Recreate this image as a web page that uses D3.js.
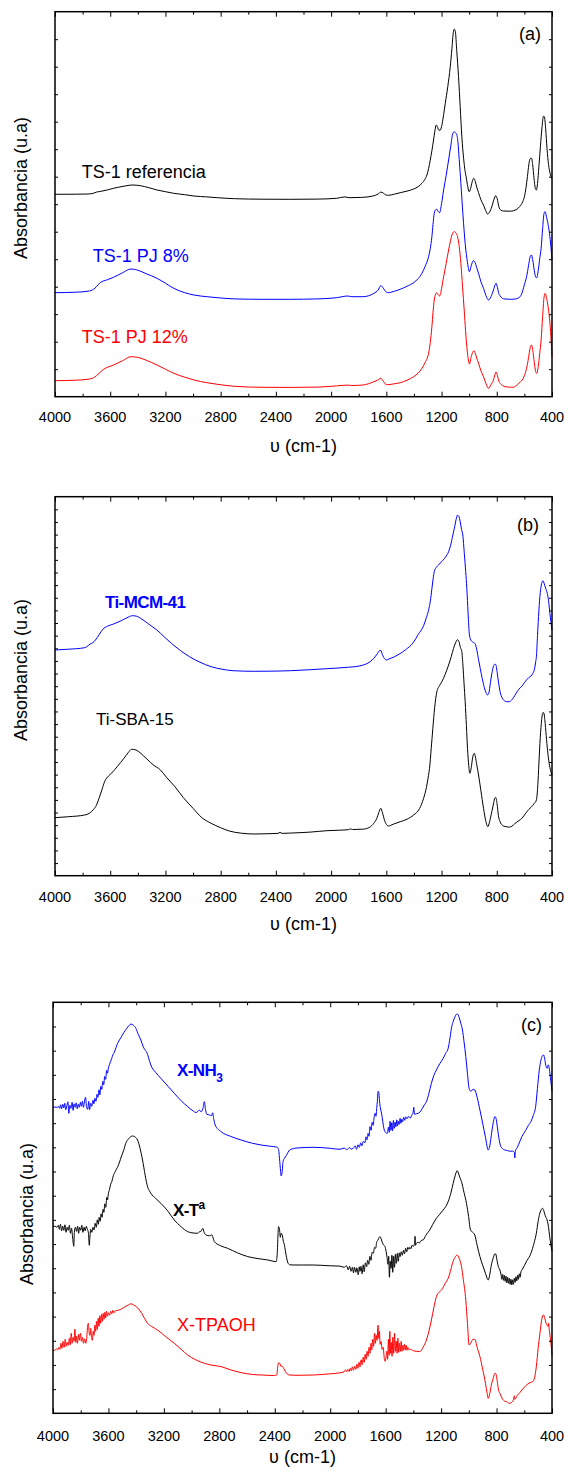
<!DOCTYPE html>
<html>
<head>
<meta charset="utf-8">
<script src="https://cdn.jsdelivr.net/npm/d3@7"></script>
<style>
  html, body { margin: 0; padding: 0; background: #fff; }
  svg { display: block; }
  text { font-family: "Liberation Sans", Arial, Helvetica, sans-serif; }
</style>
</head>
<body>
<svg id="chart" width="568" height="1476"></svg>
<script>
// ---------------------------------------------------------------
// FTIR spectra: wavenumber (cm-1) vs absorbance (arbitrary units,
// each spectrum already carries its vertical offset in its panel)
// ---------------------------------------------------------------

const xTicksMajor = [4000, 3600, 3200, 2800, 2400, 2000, 1600, 1200, 800, 400];
const xTicksMinor = [3800, 3400, 3000, 2600, 2200, 1800, 1400, 1000, 600];

// Panel (a)
const tsReferencia = [[4000,202.4],[3850,202.5],[3760,202.7],[3720,203.5],[3700,204.6],[3673,205.2],[3620,206.8],[3576,208.4],[3500,210.5],[3442,211.7],[3382,211],[3320,209],[3261,206.7],[3200,205],[3140,203.4],[3060,202],[2994,200.7],[2900,199.8],[2824,199],[2700,198],[2500,197.5],[2300,197.4],[2100,197.6],[1960,198.4],[1900,199.8],[1870,199],[1780,199.3],[1700,200.6],[1660,202.6],[1640,204.6],[1622,203.6],[1604,201.8],[1585,201.4],[1540,202.6],[1499,204],[1450,205.6],[1402,207.7],[1370,210],[1342,213.4],[1320,217.5],[1306,221.7],[1294,228],[1282,236.7],[1270,246],[1258,256.7],[1248,266],[1239,271.7],[1230,270],[1220,266.5],[1210,266.5],[1200,270],[1185,282],[1173,293.4],[1155,310],[1137,330],[1125,348],[1115,364],[1108,367.5],[1100,365],[1090,346],[1077,320],[1065,290],[1053,260],[1040,238],[1030,226],[1022,220],[1010,210],[1000,205],[990,208],[978,215],[967,218.4],[955,215],[944,209],[932,204],[915,197],[896,191.5],[880,186],[867,182.7],[852,184.5],[836,190],[820,197.5],[808,201],[797,198],[785,190],[770,186.5],[752,185.7],[700,185.5],[660,187],[635,190],[612,195],[598,201],[589,208.4],[578,220],[568,232],[558,238],[549,238.6],[540,232],[530,218],[520,208],[513,206.7],[505,213],[495,230],[484,250],[472,270],[462,280.5],[455,280],[446,268],[436,248],[425,232],[415,224],[400,218]];

const tsPJ8 = [[4000,104],[3850,104.5],[3760,105.5],[3720,107.5],[3700,110],[3673,114],[3620,117],[3576,119.4],[3510,124],[3450,127.7],[3400,126.5],[3340,123],[3261,118.4],[3200,113.5],[3140,108.4],[3060,104],[2994,101.7],[2900,100],[2824,99],[2700,97.8],[2500,97.4],[2300,97.4],[2100,97.8],[1960,99],[1880,100.7],[1850,100],[1770,100],[1690,103.4],[1660,106.5],[1640,111],[1622,108.5],[1604,105],[1590,104],[1540,105.5],[1499,107.4],[1450,110.5],[1402,114],[1370,118],[1342,123.4],[1320,130],[1294,140],[1282,148],[1270,160],[1262,172],[1253,183.4],[1243,187],[1234,187.4],[1224,185],[1214,184],[1200,193],[1185,206.7],[1167,221],[1149,236.7],[1133,251],[1118,263.4],[1108,265],[1100,264],[1090,262],[1084,258],[1072,237],[1060,213.4],[1045,182],[1029,153.4],[1012,134],[998,125],[985,131],[970,136],[960,135],[945,129],[932,123.4],[915,115],[896,108.4],[878,101],[860,96.7],[842,100],[824,106.7],[812,112],[805,113.5],[795,109],[785,103],[776,101],[760,98.4],[740,97.7],[700,97.4],[670,97.6],[640,99],[622,102],[612,106],[600,112],[584,120],[570,131],[558,140],[549,141.7],[540,137],[528,126],[518,119.5],[510,119],[500,126],[489,138],[479,148],[468,168],[458,183],[450,185],[440,180],[428,172],[418,163],[408,150],[400,136.7]];

const tsPJ12 = [[4000,16],[3850,16.5],[3760,17.5],[3720,19],[3700,21],[3648,27.4],[3576,31.7],[3510,36],[3450,40],[3400,39.3],[3340,36.5],[3261,31.7],[3200,27.5],[3140,23.4],[3060,19.5],[2994,16.7],[2900,14],[2824,12.4],[2700,10.4],[2500,9.4],[2300,9.3],[2100,9.6],[1960,10.8],[1880,11.6],[1850,11.2],[1770,11.7],[1690,15],[1660,16.8],[1640,18.5],[1622,15.5],[1604,12.5],[1590,12],[1540,13],[1499,14],[1450,16.5],[1402,20],[1370,23.5],[1342,28.4],[1320,34],[1294,43.4],[1282,54],[1270,70],[1262,84],[1253,96.7],[1243,102.5],[1234,104],[1224,102],[1214,100.7],[1200,108],[1185,120],[1167,133],[1149,146.7],[1135,156],[1125,161.7],[1115,164.5],[1106,165],[1095,163.5],[1084,160],[1072,150],[1060,133.4],[1048,110],[1036,86.7],[1026,66],[1017,50],[1008,39],[998,32.7],[985,40],[972,45],[964,46],[955,43],[945,38.5],[932,33.4],[915,26],[896,20],[878,13],[860,8.4],[842,12],[824,16.7],[813,22],[805,24.8],[795,21],[785,15.5],[776,13.4],[760,11.3],[740,10],[700,9.5],[681,9.4],[660,11],[640,13.5],[628,15],[615,16.7],[600,21],[584,28.4],[570,39],[558,49],[549,51.7],[540,47],[528,34],[518,25],[510,23.4],[500,30],[489,43],[479,56.7],[468,80],[458,99],[450,103.4],[440,99],[428,90],[418,78.4],[408,60],[400,40]];

// Panel (b)
const tiMCM41 = [[4000,225.7],[3900,226.5],[3785,228],[3760,230],[3746,231.7],[3725,233],[3707,235.7],[3680,241],[3654,246.4],[3620,249.5],[3576,251.7],[3520,255],[3470,258.5],[3440,260],[3410,259.5],[3380,257.4],[3330,252.5],[3290,248.5],[3262,245.7],[3210,239],[3157,232.4],[3090,225],[3026,219],[2950,213.5],[2869,209],[2790,206.5],[2712,205],[2555,204.4],[2400,204.6],[2293,205],[2150,206],[2031,207],[1900,208.2],[1796,209.7],[1750,211.5],[1717,214],[1690,217.5],[1665,222],[1650,225],[1640,225.3],[1628,221],[1610,216.5],[1597,215.7],[1580,216.8],[1540,219],[1508,221.5],[1460,226],[1403,233.5],[1370,241],[1330,250],[1310,258],[1295,265],[1282,274],[1270,287],[1260,298],[1253,304],[1240,308],[1222,310.7],[1200,314],[1180,317],[1160,321],[1149,324],[1135,330],[1118,340.7],[1105,349],[1095,356],[1085,360.5],[1075,359.5],[1065,354],[1055,346],[1046,340.7],[1035,322],[1025,304],[1017,287.4],[1008,263],[998,240.7],[985,235],[972,233.5],[957,232],[945,226],[932,216],[920,207.4],[905,197],[890,188],[878,183],[867,180.7],[857,183],[846,193],[836,202],[825,209],[815,211.5],[807,211],[797,203],[786,192],[776,184],[760,177.5],[745,175],[728,174],[709,174],[690,176],[670,180],[650,184.5],[630,188],[618,189.5],[600,193],[580,196.5],[560,199],[552,199.7],[540,202],[528,206],[518,214],[513,219],[505,240],[495,265],[485,283],[475,292],[466,295],[461,294],[452,290],[445,287],[434,282.4],[425,275],[415,262],[408,254],[400,245.7]];

const tiSBA15 = [[4000,58],[3900,59],[3785,60.7],[3750,62.5],[3720,66.4],[3700,70.5],[3681,77.4],[3660,86],[3641,94],[3610,100],[3580,104],[3550,109],[3500,117.5],[3470,123],[3445,126.4],[3420,126],[3393,124],[3360,120],[3327,115.7],[3290,111],[3236,105.7],[3190,98],[3131,89],[3070,78],[3000,67.4],[2940,58.5],[2869,52.4],[2800,48],[2738,44.7],[2650,42.5],[2555,41.7],[2450,42],[2385,42.3],[2370,43.3],[2355,42.3],[2300,42.6],[2150,43.6],[2031,45],[1940,45.5],[1875,46],[1861,46.8],[1845,46.2],[1770,46.5],[1720,48.5],[1691,52.4],[1670,57],[1655,63],[1640,67.4],[1628,63],[1612,55],[1595,50.5],[1586,49.7],[1550,51.5],[1499,54],[1450,56.5],[1402,60.7],[1360,67],[1330,77.4],[1310,88],[1295,100],[1287,107.4],[1275,127],[1263,147.4],[1250,168],[1234,184],[1215,190],[1198,194],[1175,201],[1149,210.7],[1130,219],[1113,227.4],[1098,233],[1085,236],[1075,234.5],[1063,228],[1053,224],[1045,210],[1037,192],[1029,174],[1020,150],[1012,127.4],[1003,110],[995,102.4],[985,108],[975,118],[963,122.4],[955,119],[945,111],[932,100.7],[915,85],[896,67.4],[880,55],[865,49],[852,54],[836,64],[822,73],[815,77.5],[807,78.2],[798,72],[788,60],[776,54],[760,50.5],[740,49.2],[709,48.6],[690,49.5],[670,52],[640,55],[618,57.4],[590,62.5],[570,66],[552,68.4],[530,72],[513,75.7],[503,90],[495,112],[485,138],[475,156],[466,163],[460,163],[452,156],[442,140],[432,125],[420,112],[410,105],[400,100.7]];

// Panel (c)
const xNH3 = [[4000,306],[3985,306.3],[3970,305.8],[3960,307],[3952,305],[3945,308.5],[3938,304.5],[3930,309],[3922,305.5],[3915,310],[3908,303.5],[3900,307.5],[3892,311.5],[3886,300],[3878,308],[3870,305],[3862,311],[3855,303],[3848,309.5],[3840,306],[3832,310.5],[3825,304.5],[3818,309],[3810,306],[3802,311],[3795,307],[3788,312],[3780,306],[3772,313],[3765,316],[3758,306],[3750,304],[3742,312],[3736,303.5],[3728,310],[3720,307],[3712,313],[3705,309.5],[3698,315],[3690,312],[3683,319],[3676,316],[3668,323.5],[3662,318.5],[3655,327],[3648,324],[3641,332],[3634,328.5],[3627,337],[3620,334],[3613,343],[3607,340],[3600,345.5],[3592,349],[3584,352],[3576,355],[3568,358.5],[3559,360.5],[3545,366],[3530,371],[3511,375.5],[3490,380.5],[3467,385],[3450,388],[3438,389.3],[3420,388],[3402,385],[3385,379],[3366,373.3],[3350,367],[3337,363.5],[3328,362],[3318,359],[3305,353],[3294,348.3],[3260,341],[3222,335],[3170,327],[3125,320],[3075,312.5],[3029,306.7],[2990,302.5],[2968,300.7],[2955,302],[2944,303.3],[2932,301.5],[2918,305],[2908,311.7],[2900,304],[2890,299],[2870,298.3],[2856,297.5],[2848,300.5],[2840,294],[2830,288.3],[2788,281.7],[2720,277],[2643,273.3],[2560,270],[2499,268.3],[2430,267],[2385,266.2],[2373,264],[2366,255],[2358,242],[2354,237.3],[2348,240],[2340,252],[2330,255],[2318,257.5],[2292,263.3],[2240,265.3],[2123,266],[2000,265],[1930,264],[1900,265.2],[1880,263.6],[1860,265.8],[1850,264.2],[1834,265],[1820,267.5],[1810,264],[1800,268.5],[1790,266],[1780,270.5],[1772,267.5],[1761,272],[1750,270.5],[1742,276.5],[1735,273.5],[1727,280],[1720,277],[1713,286.7],[1705,283],[1698,291],[1690,288],[1683,296.5],[1677,300],[1670,297],[1664,306],[1660,312],[1655,322],[1650,321],[1645,313],[1640,307],[1633,302],[1625,296],[1617,288],[1607,282],[1598,280.5],[1588,280],[1580,286],[1574,281],[1568,292],[1562,283],[1556,290.5],[1550,282.5],[1544,293],[1538,285],[1532,291],[1526,286.5],[1520,293.5],[1514,287.5],[1508,292],[1502,289],[1496,295],[1490,290],[1484,294],[1478,291.5],[1470,296],[1462,293],[1455,296.5],[1446,294.5],[1436,297],[1424,295],[1412,298],[1402,301],[1397,306],[1392,299],[1378,299.5],[1365,300],[1354,301],[1335,305],[1320,308.5],[1306,311.7],[1288,320],[1270,330],[1252,338],[1234,343.3],[1210,349.5],[1185,355],[1167,360],[1149,365],[1135,376],[1123,387],[1113,391.7],[1100,396.5],[1090,399],[1082,399.3],[1070,396],[1058,390],[1046,383.3],[1035,372],[1022,356.7],[1010,340],[998,325],[985,322],[970,324],[957,323.3],[940,316],[920,303.3],[900,290],[880,276],[860,263.3],[848,268],[835,281],[822,292],[812,296.7],[804,295],[795,287],[784,276],[776,270],[760,265],[740,263.3],[720,262.7],[700,262],[685,262.3],[672,261],[668,255.5],[664,262.5],[650,266],[617,276.7],[590,283],[570,288],[552,291.7],[535,298],[518,306.7],[505,325],[492,343],[480,353],[470,357.5],[461,358.3],[452,354],[445,348],[435,345],[428,348.5],[422,346.7],[415,340],[408,331.7],[400,322]];

const xTa = [[4000,187.3],[3985,187],[3972,186],[3962,188],[3954,184],[3946,189],[3938,182.5],[3930,187],[3922,183],[3914,188.5],[3906,181],[3898,186],[3890,183],[3882,188],[3874,180],[3866,185],[3858,175],[3850,167],[3846,181],[3838,186],[3830,182],[3822,187],[3815,180],[3808,186],[3800,183],[3792,188],[3784,181],[3776,186],[3768,182.5],[3760,187],[3752,184],[3744,180],[3738,168],[3734,176],[3728,184],[3720,181],[3712,186],[3704,183.3],[3696,190],[3688,186],[3680,193.5],[3673,189],[3667,196],[3660,192],[3653,199.5],[3646,196],[3639,204],[3633,201],[3626,209.5],[3619,206],[3612,216],[3607,213.3],[3600,220],[3592,224],[3584,229],[3575,232],[3565,237.5],[3550,242],[3535,246],[3523,250],[3505,257.5],[3490,263],[3475,270],[3455,274.5],[3440,276.5],[3426,277.3],[3410,276.5],[3390,273.3],[3372,265],[3354,253.3],[3335,238],[3318,226.7],[3300,221.5],[3294,220],[3260,215],[3222,210],[3170,202],[3125,193.3],[3075,186.5],[3029,181.7],[2990,180.3],[2956,180],[2944,181.5],[2932,182],[2920,185],[2910,181],[2896,178.3],[2870,177.5],[2855,178.5],[2848,176.7],[2836,171.7],[2790,167.5],[2740,165],[2670,160.5],[2595,156.7],[2520,154.7],[2450,153.3],[2390,151.7],[2382,160],[2377,178],[2373,186.7],[2366,184],[2360,176],[2354,180],[2346,178.5],[2340,173.3],[2330,168],[2318,158],[2304,150],[2290,148.5],[2267,148.3],[2200,148.3],[2123,148.3],[2000,147.5],[1930,147.2],[1900,146],[1882,147.5],[1870,143.5],[1860,147],[1850,142],[1840,146],[1832,140.5],[1825,146],[1815,141],[1808,145.5],[1798,138.5],[1790,146.5],[1785,142],[1778,147],[1770,139.5],[1762,148.5],[1755,141.5],[1746,150.5],[1737,146.7],[1730,153],[1722,149],[1714,157],[1706,153],[1698,161],[1689,160],[1680,166],[1672,165],[1665,171],[1657,173],[1650,175],[1641,176.7],[1634,175],[1626,171.5],[1618,169],[1605,166.7],[1597,162],[1590,156],[1584,149],[1578,157],[1573,136],[1567,152],[1561,145],[1555,158],[1549,141],[1543,157],[1536,146],[1530,159],[1523,150],[1516,160],[1509,152],[1502,160.5],[1496,156.7],[1488,161.5],[1480,158],[1472,163],[1464,159.5],[1456,165],[1448,161.5],[1440,166],[1432,164],[1426,166],[1418,164.5],[1410,168],[1400,167],[1392,170],[1388,177],[1384,168],[1378,170],[1368,171],[1355,170.5],[1342,173],[1330,173.3],[1310,178],[1295,181],[1282,183.3],[1260,189],[1234,195],[1210,199],[1185,203.3],[1165,207],[1149,211.7],[1130,220],[1113,230],[1098,238],[1090,241.5],[1084,242.7],[1076,240.5],[1065,236],[1053,231.7],[1035,221],[1017,210],[1002,197],[988,183.3],[972,181],[957,178.3],[940,168],[920,156.7],[900,148],[880,140],[868,135],[860,133.3],[850,138],[838,148],[825,155],[812,159.5],[806,159.3],[798,154],[788,147],[776,143.3],[768,139],[762,134],[756,139],[750,133],[744,138],[738,132],[732,137],[726,130.5],[720,136],[714,130],[708,135],[702,129],[696,134],[690,128.5],[684,133.5],[678,129],[672,135],[666,131],[660,136.5],[654,132.5],[648,138],[642,134],[636,139.5],[630,136],[624,141.5],[617,143.3],[600,147.5],[580,153],[565,156],[552,160],[540,165],[528,171],[513,180],[500,192],[490,199],[480,203],[469,205],[460,203],[452,199],[444,196],[435,193.3],[425,186],[417,177],[408,168.3],[400,162]];

const xTPAOH = [[4000,62.7],[3985,63.2],[3975,64.5],[3965,63.5],[3958,66],[3950,64],[3942,70],[3936,65],[3928,72],[3920,66],[3912,74],[3905,67],[3898,71],[3890,68],[3882,75],[3876,68.5],[3868,80],[3862,70],[3855,76],[3848,72],[3842,84],[3836,71],[3830,77],[3824,70],[3816,79],[3810,73],[3802,80],[3795,72],[3788,76],[3780,70],[3772,74.5],[3764,70],[3756,76],[3750,88],[3745,90],[3740,82],[3734,78],[3728,85],[3722,76],[3716,73],[3710,82],[3704,78],[3698,88],[3692,82],[3686,92],[3680,84],[3674,95],[3668,87],[3662,97.5],[3656,90],[3650,99],[3644,92],[3638,100],[3632,94],[3626,101],[3620,95.5],[3614,102],[3608,97],[3600,100.5],[3592,98],[3584,102],[3576,99.5],[3568,103],[3560,100.5],[3550,102.5],[3530,103],[3511,104],[3480,106.5],[3455,108.5],[3438,109.5],[3420,108.5],[3390,105.5],[3360,100],[3340,95],[3318,90],[3290,87],[3246,83.3],[3190,77],[3125,70],[3075,64],[3029,58.3],[2970,53.5],[2908,50],[2860,48.3],[2788,46.7],[2720,43.5],[2643,40.7],[2560,38.8],[2480,38.2],[2402,37.8],[2385,38.5],[2380,45],[2373,50.5],[2364,50],[2356,47],[2349,47.3],[2340,46],[2330,43.3],[2315,40],[2294,38.3],[2240,38],[2123,38.3],[2000,39.5],[1930,40.5],[1900,41.5],[1890,43.5],[1882,41.5],[1872,44],[1864,41.8],[1856,45],[1848,42.5],[1840,46.5],[1832,43],[1824,47],[1815,44],[1808,49],[1800,45],[1792,51],[1785,46.5],[1777,53.5],[1770,48.5],[1762,56],[1755,51],[1748,59],[1741,54],[1734,62],[1727,57],[1720,66],[1713,60],[1706,70],[1700,63.5],[1693,74],[1687,67],[1680,80],[1674,70],[1668,78],[1662,73],[1655,88],[1650,75],[1645,82],[1640,69],[1633,72],[1626,64],[1618,66],[1610,55],[1604,52],[1598,56],[1592,62],[1586,54],[1580,74],[1575,58],[1570,82],[1565,60],[1560,71],[1554,57],[1548,76],[1542,60],[1536,80],[1530,62],[1524,72],[1518,60],[1512,75],[1506,61],[1500,70],[1494,62],[1488,72],[1482,62],[1476,68],[1470,63],[1464,69],[1458,63.5],[1452,68],[1446,63],[1440,66],[1430,63.3],[1420,64],[1400,62.5],[1380,62],[1354,61.7],[1330,66],[1306,73.3],[1288,82],[1270,93.3],[1252,106],[1234,116.7],[1215,121],[1197,123.3],[1170,130],[1149,135],[1133,142],[1118,150],[1100,156],[1084,158.3],[1070,155],[1053,146.7],[1040,134],[1022,113.3],[1010,90],[998,68.3],[985,70.5],[970,74],[957,74],[940,66],[920,56.7],[900,44],[880,30],[868,20],[860,15],[850,19],[838,28],[822,36],[812,40],[804,39.5],[795,32],[785,23],[776,20],[760,15],[740,12],[728,11.7],[709,10],[690,11],[678,13.5],[672,17.5],[668,14],[650,18],[630,21],[617,23.3],[590,27.5],[560,30.5],[539,31.7],[525,36],[513,46.7],[500,65],[487,80],[475,93],[466,98],[461,98.3],[452,95],[442,90],[432,87.5],[428,86.7],[424,90],[420,84],[412,75],[403,63.3],[400,58]];

// ---------------------------------------------------------------
const BLUE = "#0000ff", RED = "#ff0000", BLACK = "#000000";

const panels = [
  {
    tag: "(a)", top: 11.7, bottom: 396.7, left: 55, right: 552,
    yMax: 385, yDiv: 14, ylabX: 27, ylabY: 188, tickBase: 421.7, titleBase: 452,
    series: [
      {data: tsReferencia, color: BLACK},
      {data: tsPJ8, color: BLUE},
      {data: tsPJ12, color: RED}
    ],
    labels: [
      {parts: [{t: "TS-1 referencia"}], x: 81.7, y: 178, color: BLACK, weight: "normal", size: 18},
      {parts: [{t: "TS-1 PJ 8%"}], x: 92.7, y: 262, color: BLUE, weight: "normal", size: 18},
      {parts: [{t: "TS-1 PJ 12%"}], x: 81.7, y: 343.3, color: RED, weight: "normal", size: 18}
    ],
    tagPos: [519, 40]
  },
  {
    tag: "(b)", top: 496.7, bottom: 875.7, left: 55, right: 552,
    yMax: 379, yDiv: 30, ylabX: 27, ylabY: 670, tickBase: 901.7, titleBase: 930,
    series: [
      {data: tiMCM41, color: BLUE},
      {data: tiSBA15, color: BLACK}
    ],
    labels: [
      {parts: [{t: "Ti-MCM-41"}], x: 105, y: 608, color: BLUE, weight: "bold", size: 17},
      {parts: [{t: "Ti-SBA-15"}], x: 96, y: 725, color: BLACK, weight: "normal", size: 17}
    ],
    tagPos: [517, 531]
  },
  {
    tag: "(c)", top: 1002.3, bottom: 1413.3, left: 53, right: 552,
    yMax: 411, yDiv: 17, ylabX: 33, ylabY: 1214, tickBase: 1440.7, titleBase: 1463,
    series: [
      {data: xNH3, color: BLUE},
      {data: xTa, color: BLACK},
      {data: xTPAOH, color: RED}
    ],
    labels: [
      {parts: [{t: "X-NH"}, {t: "3", shift: 6, scale: 0.7}], x: 177, y: 1076, color: BLUE, weight: "bold", size: 17},
      {parts: [{t: "X-T"}, {t: "a", shift: -7, scale: 0.7}], x: 173, y: 1216, color: BLACK, weight: "bold", size: 17},
      {parts: [{t: "X-TPAOH"}], x: 177, y: 1331, color: RED, weight: "normal", size: 18}
    ],
    tagPos: [521, 1031]
  }
];

const svg = d3.select("#chart");

panels.forEach(p => {
  const g = svg.append("g");

  const x = d3.scaleLinear().domain([4000, 400]).range([p.left, p.right]);
  const y = d3.scaleLinear().domain([0, p.yMax]).range([p.bottom, p.top]);
  const yTicks = d3.range(1, p.yDiv).map(i => i * p.yMax / p.yDiv);

  // spectra
  const line = d3.line()
    .x(d => x(d[0]))
    .y(d => y(d[1]))
    .curve(d3.curveMonotoneX);

  g.append("g")
    .selectAll("path")
    .data(p.series)
    .join("path")
    .attr("d", s => line(s.data))
    .attr("fill", "none")
    .attr("stroke", s => s.color)
    .attr("stroke-width", 1)
    .attr("stroke-linejoin", "round");

  // axes: ticks point inwards on all four sides
  const bottomAxis = d3.axisBottom(x).tickValues(xTicksMajor).tickSize(-5).tickFormat("");
  const bottomMinor = d3.axisBottom(x).tickValues(xTicksMinor).tickSize(-3).tickFormat("");
  const topAxis = d3.axisTop(x).tickValues(xTicksMajor).tickSize(-5).tickFormat("");
  const topMinor = d3.axisTop(x).tickValues(xTicksMinor).tickSize(-3).tickFormat("");
  const leftAxis = d3.axisLeft(y).tickValues(yTicks).tickSize(-3).tickFormat("");
  const rightAxis = d3.axisRight(y).tickValues(yTicks).tickSize(-3).tickFormat("");

  const axes = [
    [bottomAxis, `translate(0,${p.bottom})`],
    [bottomMinor, `translate(0,${p.bottom})`],
    [topAxis, `translate(0,${p.top})`],
    [topMinor, `translate(0,${p.top})`],
    [leftAxis, `translate(${p.left},0)`],
    [rightAxis, `translate(${p.right},0)`]
  ];
  axes.forEach(([ax, tr]) => {
    const a = g.append("g").attr("transform", tr).call(ax);
    a.select(".domain").remove();
    a.selectAll(".tick line").attr("stroke", "#000").attr("stroke-width", 1);
  });

  // frame
  g.append("rect")
    .attr("x", p.left).attr("y", p.top)
    .attr("width", p.right - p.left).attr("height", p.bottom - p.top)
    .attr("fill", "none").attr("stroke", "#000").attr("stroke-width", 1.5);

  // tick labels
  g.append("g")
    .selectAll("text")
    .data(xTicksMajor)
    .join("text")
    .attr("x", d => x(d))
    .attr("y", p.tickBase)
    .attr("text-anchor", "middle")
    .attr("font-size", 14.5)
    .attr("fill", "#000")
    .text(d => d);

  // axis titles
  g.append("text")
    .attr("x", (p.left + p.right) / 2)
    .attr("y", p.titleBase)
    .attr("text-anchor", "middle")
    .attr("font-size", 18)
    .text("υ (cm-1)");

  g.append("text")
    .attr("transform", `translate(${p.ylabX},${p.ylabY}) rotate(-90)`)
    .attr("text-anchor", "middle")
    .attr("font-size", 18)
    .text("Absorbancia (u.a)");

  // panel tag
  g.append("text")
    .attr("x", p.tagPos[0]).attr("y", p.tagPos[1])
    .attr("font-size", 18)
    .text(p.tag);

  // series labels
  p.labels.forEach(l => {
    const t = g.append("text")
      .attr("x", l.x).attr("y", l.y)
      .attr("fill", l.color)
      .attr("font-weight", l.weight)
      .attr("font-size", l.size)
      .attr("letter-spacing", l.weight === "bold" ? -0.6 : 0);
    l.parts.forEach(part => {
      const ts = t.append("tspan").text(part.t);
      if (part.shift) {
        ts.attr("dy", part.shift).attr("font-size", l.size * part.scale);
      }
    });
  });
});
</script>
</body>
</html>
